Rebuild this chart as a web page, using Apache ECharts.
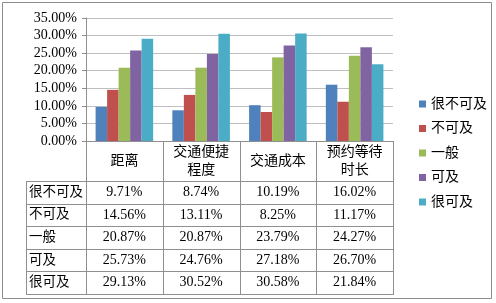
<!DOCTYPE html>
<html>
<head>
<meta charset="utf-8">
<script src="https://cdn.jsdelivr.net/npm/echarts@6/dist/echarts.min.js"></script>
<style>
html, body { margin: 0; padding: 0; background: #fff; }
#main { width: 496px; height: 303px; }
</style>
</head>
<body>
<div id="main"></div>
<script>
// 类别(表头)
var categories = ['距离', '交通便捷\n程度', '交通成本', '预约等待\n时长'];
// 系列名
var seriesNames = ['很不可及', '不可及', '一般', '可及', '很可及'];
// 各系列数值(%)
var veryUnreachable = [9.71, 8.74, 10.19, 16.02];
var unreachable = [14.56, 13.11, 8.25, 11.17];
var normal = [20.87, 20.87, 23.79, 24.27];
var reachable = [25.73, 24.76, 27.18, 26.70];
var veryReachable = [29.13, 30.52, 30.58, 21.84];
var seriesData = [veryUnreachable, unreachable, normal, reachable, veryReachable];

var colors = ['#4F81BD', '#C0504D', '#9BBB59', '#8064A2', '#4BACC6'];
var fontFam = '"Liberation Serif", "Noto Sans CJK SC", serif';
var lineColor = '#8f8f8f';

var option = {
    color: colors,
    animation: false,
    textStyle: { fontFamily: fontFam },
    grid: {
        left: 86,
        right: 103,
        top: 18,
        bottom: 162
    },
    legend: {
        orient: 'vertical',
        left: 414,
        top: 92,
        icon: 'rect',
        itemWidth: 7,
        itemHeight: 7,
        itemGap: 10.5,
        data: seriesNames,
        textStyle: { fontSize: 14, lineHeight: 14, color: '#000', fontFamily: fontFam }
    },
    xAxis: {
        type: 'category',
        data: categories,
        axisLine: { lineStyle: { color: lineColor } },
        axisTick: { show: false },
        axisLabel: {
            margin: 20,
            verticalAlign: 'middle',
            lineHeight: 18,
            fontSize: 14,
            color: '#000',
            fontFamily: fontFam
        }
    },
    yAxis: {
        type: 'value',
        min: 0,
        max: 35,
        interval: 5,
        axisLine: { show: true, lineStyle: { color: lineColor } },
        axisTick: { show: true, length: 4, lineStyle: { color: lineColor } },
        splitLine: { lineStyle: { color: '#bfbfbf' } },
        axisLabel: {
            margin: 9,
            fontSize: 14,
            color: '#000',
            fontFamily: fontFam,
            formatter: function (v) { return v.toFixed(2) + '%'; }
        }
    },
    series: seriesNames.map(function (name, i) {
        return {
            name: name,
            type: 'bar',
            barGap: 0,
            barCategoryGap: '25%',
            data: seriesData[i]
        };
    })
};

var chart = echarts.init(document.getElementById('main'));
chart.setOption(option);

// 数据表: 线和文字
function buildTable() {
    var c0 = chart.convertToPixel({ xAxisIndex: 0 }, 0);
    var c1 = chart.convertToPixel({ xAxisIndex: 0 }, 1);
    var band = c1 - c0;
    var xs = [];
    for (var i = 0; i <= categories.length; i++) xs.push(c0 - band / 2 + band * i);
    var yAxisBottom = chart.convertToPixel({ yAxisIndex: 0 }, 0);
    var headBottom = 181;
    var rowH = 22.6;
    var tableLeft = 26;
    var tableBottom = headBottom + rowH * seriesNames.length;
    var g = [];

    // 外框
    g.push({
        type: 'rect',
        shape: { x: 2.5, y: 2.5, width: 489, height: 296 },
        style: { fill: 'none', stroke: '#8c8c8c', lineWidth: 1 }
    });
    // 竖线
    xs.forEach(function (x) {
        var xx = Math.round(x) + 0.5;
        g.push({ type: 'line', shape: { x1: xx, y1: yAxisBottom, x2: xx, y2: tableBottom }, style: { stroke: lineColor } });
    });
    g.push({ type: 'line', shape: { x1: tableLeft + 0.5, y1: headBottom, x2: tableLeft + 0.5, y2: tableBottom }, style: { stroke: lineColor } });
    // 横线
    for (var r = 0; r <= seriesNames.length; r++) {
        var yy = Math.round(headBottom + rowH * r) + 0.5;
        g.push({ type: 'line', shape: { x1: tableLeft, y1: yy, x2: Math.round(xs[xs.length - 1]) + 1, y2: yy }, style: { stroke: lineColor } });
    }
    // 文字
    seriesNames.forEach(function (name, r) {
        var cy = headBottom + rowH * r + rowH / 2;
        g.push({
            type: 'text', x: tableLeft + 3, y: cy,
            style: { text: name, fontSize: 13.5, fontFamily: fontFam, fill: '#000', align: 'left', verticalAlign: 'middle' }
        });
        seriesData[r].forEach(function (v, c) {
            g.push({
                type: 'text', x: c0 + band * c, y: cy,
                style: { text: v.toFixed(2) + '%', fontSize: 14, fontFamily: fontFam, fill: '#000', align: 'center', verticalAlign: 'middle' }
            });
        });
    });
    chart.setOption({ graphic: g });
}
buildTable();
</script>
</body>
</html>
